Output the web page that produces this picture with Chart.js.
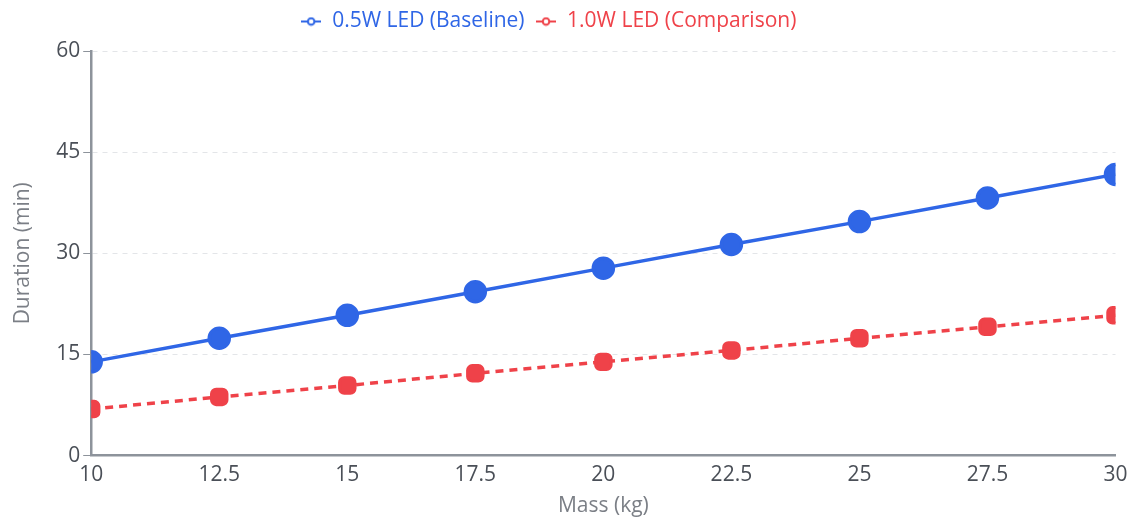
<!DOCTYPE html>
<html>
<head>
<meta charset="utf-8">
<script src="https://cdn.jsdelivr.net/npm/chart.js@4.4.0/dist/chart.umd.min.js"></script>
<style>
  html, body { margin: 0; padding: 0; background: #fff; overflow: hidden; }
  #wrap { position: relative; width: 1129px; height: 519px; }
</style>
</head>
<body>
<div id="wrap"><canvas id="myChart"></canvas></div>
<script>
// data
var massKg = [10, 12.5, 15, 17.5, 20, 22.5, 25, 27.5, 30];
var baselineMin = [13.9, 17.4, 20.8, 24.3, 27.8, 31.3, 34.7, 38.2, 41.7];
var comparisonMin = [6.9, 8.7, 10.4, 12.2, 13.9, 15.6, 17.4, 19.1, 20.8];
var yTicks = [0, 15, 30, 45, 60];

var blue = '#2f66e6';
var red = '#ef4249';
var fontFamily = "'Open Sans', 'Noto Sans', sans-serif";

function toPoints(values) {
    return massKg.map(function(m, i) { return { x: m, y: values[i] }; });
}

// small "-o-" icon used in the legend
function legendIcon(color) {
    var c = document.createElement('canvas');
    c.width = 20; c.height = 10;
    var g = c.getContext('2d');
    g.strokeStyle = color;
    g.lineWidth = 2;
    g.beginPath(); g.moveTo(0, 5); g.lineTo(20, 5); g.stroke();
    g.fillStyle = '#fff';
    g.beginPath(); g.arc(10, 5, 3.3, 0, Math.PI * 2); g.fill(); g.stroke();
    return c;
}

// extra room under the legend, and nudge it a little to the left
var legendGap = {
    id: 'legendGap',
    beforeInit: function(chart) {
        var legend = chart.legend;
        var fit = legend.fit;
        legend.fit = function() {
            fit.bind(legend)();
            this.height += 7;
        };
        var draw = legend.draw;
        legend.draw = function() {
            chart.ctx.save();
            chart.ctx.translate(-21, -2);
            draw.bind(legend)();
            chart.ctx.restore();
        };
    }
};

var ctx = document.getElementById('myChart').getContext('2d');
var myChart = new Chart(ctx, {
    type: 'line',
    data: {
        datasets: [{
            label: '0.5W LED (Baseline)',
            data: toPoints(baselineMin),
            borderColor: blue,
            backgroundColor: blue,
            borderWidth: 3.5,
            pointRadius: 10,
            pointHoverRadius: 10,
            pointStyle: 'circle',
            pointBackgroundColor: blue,
            pointBorderColor: blue,
            tension: 0
        }, {
            label: '1.0W LED (Comparison)',
            data: toPoints(comparisonMin),
            borderColor: red,
            backgroundColor: red,
            borderWidth: 3.5,
            borderDash: [8, 6],
            pointRadius: 9,
            pointHoverRadius: 9,
            pointStyle: 'rectRounded',
            pointBackgroundColor: red,
            pointBorderColor: red,
            pointBorderWidth: 3,
            tension: 0
        }]
    },
    options: {
        responsive: true,
        maintainAspectRatio: false,
        animation: false,
        layout: { padding: { top: 2, left: 10, right: 0, bottom: 0 } },
        plugins: {
            legend: {
                position: 'top',
                labels: {
                    usePointStyle: true,
                    font: { family: fontFamily, size: 21 },
                    padding: 11,
                    generateLabels: function(chart) {
                        return chart.data.datasets.map(function(ds, i) {
                            return {
                                text: ds.label,
                                fontColor: ds.borderColor,
                                pointStyle: legendIcon(ds.borderColor),
                                datasetIndex: i,
                                hidden: !chart.isDatasetVisible(i),
                                lineWidth: 0,
                                strokeStyle: ds.borderColor,
                                fillStyle: ds.borderColor
                            };
                        });
                    }
                }
            },
            tooltip: { enabled: false }
        },
        scales: {
            x: {
                type: 'linear',
                min: massKg[0],
                max: massKg[massKg.length - 1],
                title: {
                    display: true,
                    text: 'Mass (kg)',
                    color: '#7b7f86',
                    font: { family: fontFamily, size: 21 },
                    padding: { top: 5, bottom: 0 }
                },
                ticks: {
                    stepSize: 2.5,
                    color: '#4a4f57',
                    font: { family: fontFamily, size: 21 },
                    padding: 1
                },
                grid: { display: false, drawTicks: true, tickLength: 6, tickColor: '#8d939b' },
                border: { display: true, color: '#8d939b', width: 2.5 }
            },
            y: {
                min: yTicks[0],
                max: yTicks[yTicks.length - 1],
                afterBuildTicks: function(axis) {
                    axis.ticks = yTicks.map(function(v) { return { value: v }; });
                },
                title: {
                    display: true,
                    text: 'Duration (min)',
                    color: '#7b7f86',
                    font: { family: fontFamily, size: 21 },
                    padding: { top: 0, bottom: 18 }
                },
                ticks: {
                    color: '#4a4f57',
                    font: { family: fontFamily, size: 21 },
                    padding: 3
                },
                grid: {
                    color: '#e3e5e8',
                    lineWidth: 1,
                    tickLength: 8,
                    tickColor: '#8d939b',
                    drawOnChartArea: true
                },
                border: { display: true, color: '#8d939b', width: 2.5, dash: [5, 5] }
            }
        }
    },
    plugins: [legendGap]
});
</script>
</body>
</html>
